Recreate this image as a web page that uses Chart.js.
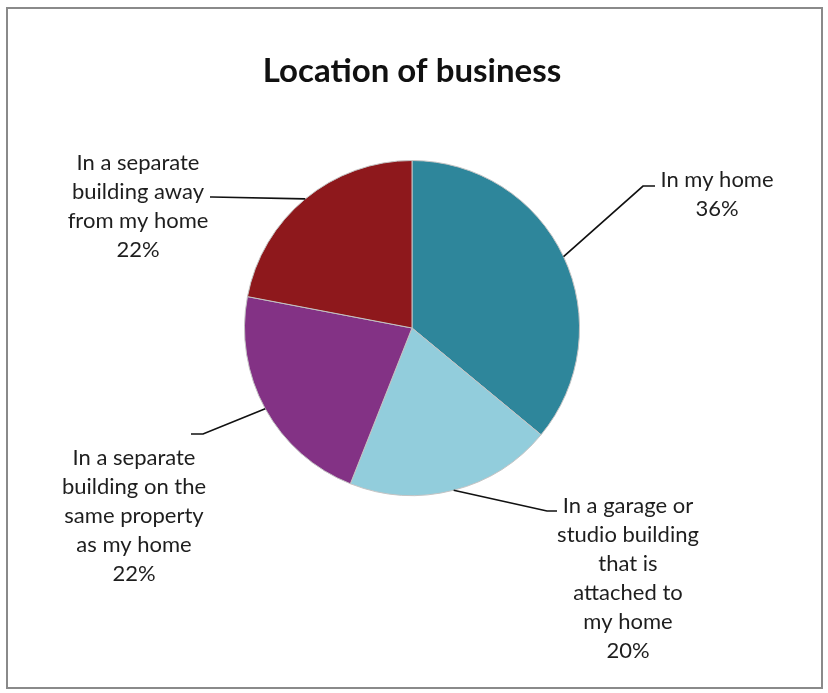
<!DOCTYPE html>
<html>
<head>
<meta charset="utf-8">
<script src="https://cdn.jsdelivr.net/npm/chart.js@4.4.0/dist/chart.umd.min.js"></script>
<style>
  html, body { margin: 0; padding: 0; background: #fff; }
  #wrap { width: 828px; height: 693px; }
</style>
</head>
<body>
<div id="wrap"><canvas id="pie" width="828" height="693"></canvas></div>
<script>
// survey answers
const categories = [
  'In my home',
  'In a garage or studio building that is attached to my home',
  'In a separate building on the same property as my home',
  'In a separate building away from my home'
];
const shares = [36, 20, 22, 22];
const labelLines = [
  ['In my home'],
  ['In a garage or', 'studio building', 'that is', 'attached to', 'my home'],
  ['In a separate', 'building on the', 'same property', 'as my home'],
  ['In a separate', 'building away', 'from my home']
];
const sliceColors = ['#2E869B', '#92CDDC', '#833285', '#8E181C'];

// where each callout sits: text centre + first line y, leader elbow and end
const callouts = [
  { x: 717, y: 180, elbow: [643, 186], end: [655, 186] },
  { x: 628, y: 506, elbow: [547, 511], end: [557, 511] },
  { x: 134, y: 458, elbow: [203, 434], end: [191, 434] },
  { x: 138, y: 163, elbow: [212, 197], end: [210, 197] }
];

const frame = {
  id: 'frame',
  beforeDraw(chart) {
    const c = chart.ctx;
    c.save();
    c.fillStyle = '#fff';
    c.fillRect(0, 0, chart.width, chart.height);
    c.strokeStyle = '#8a8a8a';
    c.lineWidth = 2;
    c.strokeRect(7, 8, 815, 680);
    c.restore();
  }
};

const callout = {
  id: 'callout',
  afterDatasetsDraw(chart) {
    const c = chart.ctx;
    const arcs = chart.getDatasetMeta(0).data;
    c.save();
    arcs.forEach((arc, i) => {
      const p = callouts[i];
      const mid = (arc.startAngle + arc.endAngle) / 2;
      const sx = arc.x + Math.cos(mid) * arc.outerRadius;
      const sy = arc.y + Math.sin(mid) * arc.outerRadius;
      c.strokeStyle = '#111';
      c.lineWidth = 1.7;
      c.beginPath();
      c.moveTo(sx, sy);
      c.lineTo(p.elbow[0], p.elbow[1]);
      c.lineTo(p.end[0], p.end[1]);
      c.stroke();

      const lines = labelLines[i].concat([shares[i] + '%']);
      c.fillStyle = '#1e1e1e';
      c.font = '22px Lato';
      c.textAlign = 'center';
      c.textBaseline = 'middle';
      lines.forEach((t, k) => c.fillText(t, p.x, p.y + k * 29));
    });
    c.restore();
  }
};

new Chart(document.getElementById('pie'), {
  type: 'pie',
  data: {
    labels: categories,
    datasets: [{
      data: shares,
      backgroundColor: sliceColors,
      borderColor: '#c4c4c4',
      borderWidth: 1,
      hoverOffset: 0
    }]
  },
  options: {
    responsive: false,
    animation: false,
    events: [],
    layout: { padding: { left: 244, right: 248, top: 0, bottom: 197 } },
    plugins: {
      legend: { display: false },
      tooltip: { enabled: false },
      title: {
        display: true,
        text: 'Location of business',
        color: '#111',
        font: { family: 'Lato', size: 33, weight: 'bold', lineHeight: 1.2 },
        padding: { top: 52, bottom: 68.4 }
      }
    }
  },
  plugins: [frame, callout]
});
</script>
</body>
</html>
